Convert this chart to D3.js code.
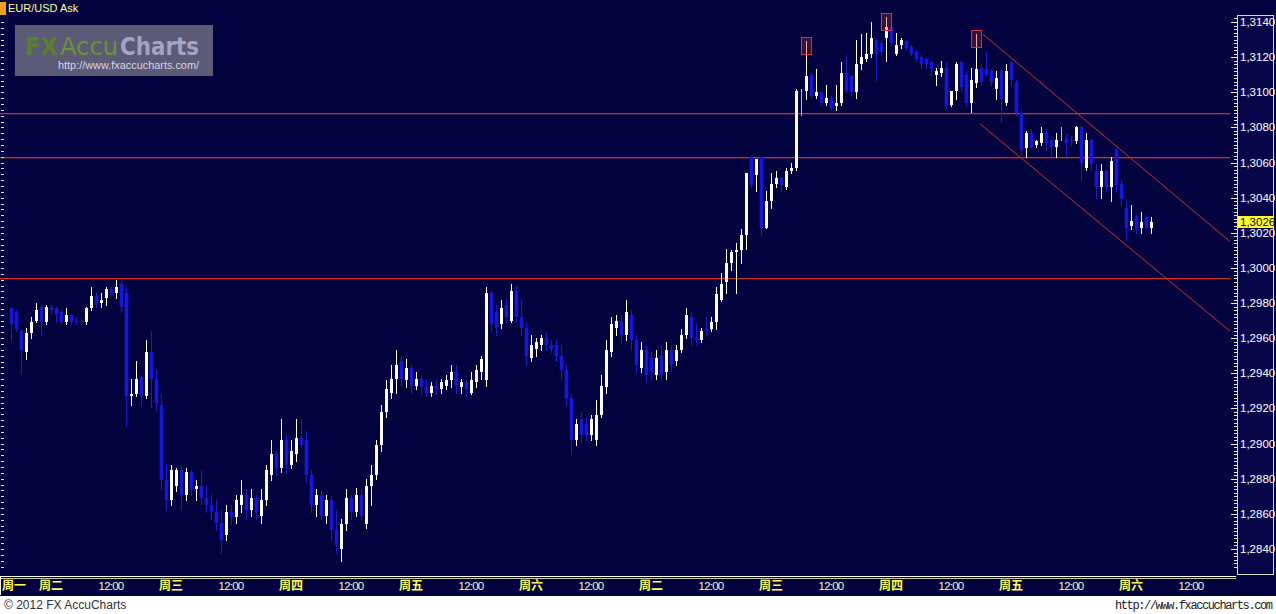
<!DOCTYPE html>
<html><head><meta charset="utf-8">
<script src="https://cdn.jsdelivr.net/npm/d3@7"></script>
<style>html,body{margin:0;padding:0;background:#fff;overflow:hidden}svg{display:block}</style>
</head><body>
<svg id="chart" width="1276" height="614"></svg>
<script>
// ---------- DATA (EUR/USD Ask, hourly candles) ----------
const openP = [
1.2977,1.2975,1.2964,1.2952,1.2963,1.2970,1.2978,1.2969,1.2978,1.2977,
1.2975,1.2969,1.2973,1.2970,1.2970,1.2969,1.2977,1.2984,1.2980,1.2983,
1.2988,1.2986,1.2991,1.2986,1.2927,1.2928,1.2938,1.2927,1.2952,1.2937,
1.2922,1.2879,1.2868,1.2876,1.2885,1.2871,1.2884,1.2874,1.2876,1.2869,
1.2865,1.2861,1.2855,1.2848,1.2861,1.2858,1.2865,1.2871,1.2862,1.2869,
1.2859,1.2868,1.2882,1.2894,1.2886,1.2902,1.2888,1.2894,1.2903,1.2902,
1.2882,1.2865,1.2871,1.2859,1.2868,1.2851,1.2840,1.2854,1.2869,1.2861,
1.2871,1.2854,1.2876,1.2882,1.2899,1.2918,1.2929,1.2937,1.2947,1.2936,
1.2943,1.2933,1.2937,1.2932,1.2929,1.2933,1.2931,1.2933,1.2936,1.2941,
1.2932,1.2935,1.2929,1.2935,1.2941,1.2936,1.2986,1.2975,1.2968,1.2979,
1.2970,1.2987,1.2972,1.2966,1.2949,1.2954,1.2956,1.2960,1.2956,1.2956,
1.2950,1.2942,1.2926,1.2902,1.2914,1.2911,1.2905,1.2902,1.2916,1.2932,
1.2952,1.2966,1.2970,1.2962,1.2973,1.2959,1.2943,1.2953,1.2949,1.2939,
1.2950,1.2941,1.2953,1.2947,1.2953,1.2962,1.2972,1.2960,1.2959,1.2965,
1.2965,1.2969,1.2982,1.2992,1.3003,1.3009,1.3010,1.3019,1.3063,1.3053,
1.3063,1.3023,1.3038,1.3048,1.3051,1.3046,1.3055,1.3057,1.3096,1.3101,
1.3110,1.3098,1.3100,1.3094,1.3097,1.3092,1.3094,1.3111,1.3109,1.3100,
1.3116,1.3119,1.3122,1.3130,1.3128,1.3131,1.3137,1.3122,1.3127,1.3129,
1.3126,1.3123,1.3120,1.3119,1.3117,1.3110,1.3111,1.3114,1.3093,1.3101,
1.3117,1.3110,1.3094,1.3105,1.3114,1.3113,1.3112,1.3102,1.3112,1.3094,
1.3117,1.3106,1.3088,1.3068,1.3077,1.3070,1.3071,1.3077,1.3073,1.3069,
1.3077,1.3074,1.3073,1.3072,1.3080,1.3057,1.3073,1.3055,1.3046,1.3055,
1.3046,1.3067,1.3048,1.3034,1.3024,1.3029,1.3023,1.3029,1.3023];
const highP = [
1.2978,1.2976,1.2965,1.2966,1.2972,1.2980,1.2979,1.2979,1.2979,1.2978,
1.2976,1.2977,1.2974,1.2972,1.2971,1.2978,1.2989,1.2986,1.2986,1.2989,
1.2989,1.2993,1.2993,1.2989,1.2937,1.2947,1.2939,1.2959,1.2964,1.2942,
1.2928,1.2888,1.2888,1.2886,1.2887,1.2886,1.2885,1.2879,1.2885,1.2876,
1.2871,1.2868,1.2862,1.2865,1.2865,1.2871,1.2879,1.2874,1.2874,1.2871,
1.2874,1.2888,1.2902,1.2896,1.2914,1.2905,1.2902,1.2914,1.2914,1.2907,
1.2885,1.2874,1.2873,1.2871,1.2870,1.2862,1.2857,1.2874,1.2871,1.2875,
1.2874,1.2880,1.2888,1.2902,1.2922,1.2936,1.2945,1.2953,1.2950,1.2948,
1.2945,1.2941,1.2939,1.2936,1.2935,1.2936,1.2937,1.2939,1.2945,1.2945,
1.2937,1.2936,1.2941,1.2945,1.2950,1.2989,1.2987,1.2979,1.2982,1.2983,
1.2991,1.2990,1.2982,1.2969,1.2962,1.2960,1.2962,1.2963,1.2959,1.2959,
1.2956,1.2945,1.2928,1.2914,1.2918,1.2915,1.2916,1.2925,1.2939,1.2959,
1.2972,1.2973,1.2973,1.2982,1.2976,1.2962,1.2958,1.2956,1.2952,1.2953,
1.2956,1.2958,1.2956,1.2956,1.2965,1.2977,1.2975,1.2968,1.2966,1.2972,
1.2972,1.2989,1.2997,1.3011,1.3010,1.3014,1.3022,1.3054,1.3064,1.3062,
1.3063,1.3044,1.3054,1.3055,1.3052,1.3057,1.3060,1.3102,1.3102,1.3129,
1.3111,1.3113,1.3101,1.3104,1.3098,1.3104,1.3117,1.3121,1.3110,1.3130,
1.3133,1.3134,1.3140,1.3131,1.3130,1.3143,1.3138,1.3134,1.3131,1.3130,
1.3127,1.3124,1.3121,1.3120,1.3118,1.3114,1.3118,1.3117,1.3101,1.3117,
1.3118,1.3112,1.3114,1.3133,1.3116,1.3123,1.3113,1.3112,1.3113,1.3116,
1.3118,1.3107,1.3090,1.3078,1.3079,1.3073,1.3080,1.3079,1.3074,1.3077,
1.3080,1.3076,1.3075,1.3081,1.3081,1.3077,1.3074,1.3059,1.3059,1.3056,
1.3063,1.3068,1.3050,1.3039,1.3036,1.3030,1.3032,1.3030,1.3029];
const lowP = [
1.2959,1.2964,1.2940,1.2948,1.2960,1.2969,1.2962,1.2968,1.2974,1.2969,
1.2968,1.2968,1.2968,1.2968,1.2968,1.2968,1.2976,1.2978,1.2978,1.2979,
1.2984,1.2983,1.2975,1.2910,1.2922,1.2927,1.2922,1.2926,1.2921,1.2919,
1.2874,1.2862,1.2865,1.2873,1.2863,1.2868,1.2871,1.2868,1.2865,1.2861,
1.2857,1.2851,1.2838,1.2845,1.2854,1.2855,1.2861,1.2857,1.2859,1.2857,
1.2855,1.2865,1.2879,1.2882,1.2884,1.2884,1.2886,1.2890,1.2898,1.2878,
1.2861,1.2859,1.2857,1.2855,1.2845,1.2838,1.2833,1.2851,1.2857,1.2859,
1.2857,1.2852,1.2865,1.2880,1.2896,1.2915,1.2926,1.2929,1.2933,1.2932,
1.2929,1.2931,1.2928,1.2927,1.2927,1.2928,1.2929,1.2931,1.2932,1.2929,
1.2929,1.2927,1.2928,1.2932,1.2937,1.2933,1.2964,1.2962,1.2966,1.2969,
1.2969,1.2969,1.2962,1.2945,1.2947,1.2950,1.2953,1.2953,1.2952,1.2947,
1.2937,1.2922,1.2894,1.2899,1.2901,1.2902,1.2902,1.2899,1.2915,1.2929,
1.2950,1.2962,1.2958,1.2959,1.2954,1.2941,1.2941,1.2935,1.2937,1.2937,
1.2936,1.2937,1.2941,1.2945,1.2952,1.2960,1.2956,1.2956,1.2958,1.2961,
1.2964,1.2965,1.2981,1.2986,1.2999,1.2986,1.3003,1.3011,1.3046,1.3044,
1.3019,1.3023,1.3034,1.3046,1.3044,1.3045,1.3054,1.3056,1.3087,1.3096,
1.3097,1.3097,1.3093,1.3093,1.3090,1.3090,1.3093,1.3100,1.3098,1.3097,
1.3113,1.3118,1.3120,1.3107,1.3121,1.3118,1.3127,1.3121,1.3125,1.3124,
1.3121,1.3118,1.3114,1.3114,1.3110,1.3104,1.3109,1.3091,1.3092,1.3096,
1.3101,1.3092,1.3089,1.3103,1.3104,1.3109,1.3104,1.3096,1.3083,1.3093,
1.3104,1.3087,1.3063,1.3063,1.3068,1.3069,1.3070,1.3067,1.3064,1.3063,
1.3073,1.3064,1.3070,1.3071,1.3050,1.3056,1.3056,1.3040,1.3040,1.3044,
1.3038,1.3043,1.3036,1.3016,1.3022,1.3020,1.3020,1.3023,1.3020];
const closeP = [
1.2968,1.2965,1.2953,1.2963,1.2969,1.2976,1.2969,1.2978,1.2976,1.2974,
1.2969,1.2973,1.2969,1.2969,1.2969,1.2977,1.2984,1.2979,1.2982,1.2988,
1.2985,1.2989,1.2978,1.2927,1.2928,1.2937,1.2927,1.2952,1.2937,1.2923,
1.2879,1.2868,1.2885,1.2885,1.2871,1.2884,1.2874,1.2876,1.2869,1.2865,
1.2861,1.2855,1.2845,1.2861,1.2858,1.2868,1.2871,1.2862,1.2869,1.2861,
1.2868,1.2885,1.2894,1.2886,1.2902,1.2888,1.2896,1.2903,1.2899,1.2882,
1.2865,1.2871,1.2859,1.2868,1.2851,1.2842,1.2854,1.2869,1.2861,1.2871,
1.2859,1.2876,1.2882,1.2899,1.2918,1.2931,1.2937,1.2945,1.2937,1.2943,
1.2933,1.2937,1.2932,1.2929,1.2933,1.2931,1.2935,1.2936,1.2941,1.2933,
1.2935,1.2931,1.2936,1.2942,1.2948,1.2986,1.2968,1.2966,1.2977,1.2972,
1.2987,1.2972,1.2966,1.2950,1.2956,1.2958,1.2960,1.2956,1.2954,1.2950,
1.2942,1.2926,1.2902,1.2911,1.2905,1.2905,1.2914,1.2916,1.2933,1.2953,
1.2968,1.2970,1.2962,1.2975,1.2959,1.2945,1.2953,1.2939,1.2941,1.2949,
1.2939,1.2953,1.2945,1.2953,1.2962,1.2973,1.2960,1.2959,1.2964,1.2964,
1.2969,1.2985,1.2991,1.3003,1.3009,1.3010,1.3019,1.3054,1.3047,1.3062,
1.3023,1.3038,1.3048,1.3051,1.3047,1.3055,1.3057,1.3101,1.3096,1.3109,
1.3098,1.3100,1.3094,1.3097,1.3091,1.3094,1.3111,1.3101,1.3100,1.3116,
1.3120,1.3122,1.3131,1.3122,1.3123,1.3137,1.3128,1.3127,1.3130,1.3125,
1.3122,1.3119,1.3116,1.3116,1.3113,1.3112,1.3114,1.3092,1.3101,1.3116,
1.3103,1.3094,1.3107,1.3113,1.3106,1.3110,1.3106,1.3108,1.3096,1.3112,
1.3107,1.3088,1.3067,1.3077,1.3069,1.3072,1.3077,1.3071,1.3069,1.3073,
1.3077,1.3071,1.3072,1.3080,1.3060,1.3073,1.3059,1.3046,1.3055,1.3046,
1.3061,1.3047,1.3039,1.3023,1.3027,1.3022,1.3026,1.3023,1.3026];

const timeLabels = ["周一","周二","12:00","周三","12:00","周四","12:00","周五","12:00","周六","12:00",
                    "周二","12:00","周三","12:00","周四","12:00","周五","12:00","周六","12:00"];
const timeLabelBars = [0,8,20,32,44,56,68,80,92,104,116,128,140,152,164,176,188,200,212,224,236];
const priceTicks = [1.3140,1.3120,1.3100,1.3080,1.3060,1.3040,1.3020,1.3000,1.2980,1.2960,1.2940,1.2920,1.2900,1.2880,1.2860,1.2840];
const levelLines = [1.3088, 1.3063, 1.2994];
const channelUpper = [[194.4, 1.3133], [243.8, 1.3015]];
const channelLower = [[193.8, 1.3082], [243.8, 1.2964]];
const peakBars = [159, 175, 193];
const lastPrice = 1.3026;
const titleText = "EUR/USD Ask";

// ---------- LAYOUT ----------
const W = 1276, H = 614;
const plotRight = 1236, plotBottom = 576;
const svg = d3.select("#chart");
const defs = svg.append("defs");
defs.append("clipPath").attr("id","plotclip").append("rect")
  .attr("x",0).attr("y",0).attr("width",plotRight).attr("height",plotBottom);

const bg = "#02023e";
svg.append("rect").attr("x",0).attr("y",0).attr("width",W).attr("height",596).attr("fill",bg);
svg.append("rect").attr("x",0).attr("y",596).attr("width",W).attr("height",H-596).attr("fill","#ffffff");

const x = d3.scaleLinear().domain([0, 228]).range([11, 1151]);
const y = d3.scaleLinear().domain([1.2840, 1.3140]).range([549, 22]);

// watermark logo (single text element)
svg.append("rect").attr("x",15).attr("y",25).attr("width",198).attr("height",51).attr("fill","#5b5b77");
const logoT = svg.append("text").attr("font-family","DejaVu Sans, sans-serif");
logoT.append("tspan").attr("x",25).attr("y",55).attr("font-size",24).attr("font-weight","bold")
  .attr("fill","#5a7f2e").attr("textLength",33).attr("lengthAdjust","spacingAndGlyphs").text("FX");
logoT.append("tspan").attr("x",60).attr("y",55).attr("font-size",24)
  .attr("fill","#6a9236").attr("textLength",58).attr("lengthAdjust","spacingAndGlyphs").text("Accu");
logoT.append("tspan").attr("x",120).attr("y",55).attr("font-size",24).attr("font-weight","bold")
  .attr("fill","#a3a3c2").attr("textLength",79).attr("lengthAdjust","spacingAndGlyphs").text("Charts");
logoT.append("tspan").attr("x",58).attr("y",69).attr("font-size",10.5).attr("font-family","Liberation Sans, Arial, sans-serif")
  .attr("fill","#d6d6e6").attr("textLength",141).attr("lengthAdjust","spacingAndGlyphs").text("http://www.fxaccucharts.com/");

const plot = svg.append("g").attr("clip-path","url(#plotclip)");

// support / resistance lines
const lvl = plot.append("g");
levelLines.forEach(v=>{
  const r = Math.round(y(v));
  lvl.append("rect").attr("x",0).attr("width",1230).attr("y",r).attr("height",1)
    .attr("fill","#cc302a").attr("shape-rendering","crispEdges");
  lvl.append("rect").attr("x",0).attr("width",1230).attr("y",r+1).attr("height",1)
    .attr("fill","#cc302a").attr("opacity",0.3).attr("shape-rendering","crispEdges");
});

// channel
[channelUpper, channelLower].forEach(ch=>{
  plot.append("line")
    .attr("x1",x(ch[0][0])).attr("y1",y(ch[0][1]))
    .attr("x2",Math.min(x(ch[1][0]),1230)).attr("y2",y(ch[1][1]))
    .attr("stroke","#c8302a").attr("stroke-width",1);
});

// candles
const data = openP.map((o,i)=>{
  const c = closeP[i];
  return {i, o, c, h: Math.max(highP[i],o,c), l: Math.min(lowP[i],o,c)};
});
const colorOf = d => d.c > d.o ? "#ffffff" : (d.c < d.o ? "#1818ec" : "#84c8ff");
const wickOf = d => d.c > d.o ? "#ffffff" : (d.c < d.o ? "#1c1cc8" : "#84c8ff");

const cg = plot.append("g");
data.forEach(d=>{
  const cx = Math.round(x(d.i));
  cg.append("rect").attr("x",cx).attr("width",1)
    .attr("y",Math.round(y(d.h))).attr("height",Math.max(1,Math.round(y(d.l))-Math.round(y(d.h))+1))
    .attr("fill",wickOf(d)).attr("shape-rendering","crispEdges");
  if (d.c !== d.o) {
    const top = Math.round(y(Math.max(d.o,d.c))), bot = Math.round(y(Math.min(d.o,d.c)));
    cg.append("rect").attr("x",cx-1).attr("width",3)
      .attr("y",top).attr("height",Math.max(1,bot-top))
      .attr("fill",colorOf(d)).attr("shape-rendering","crispEdges");
    if (d.c < d.o) { // soft edges like the reference's blue bars
      cg.append("rect").attr("x",cx-2).attr("width",5)
        .attr("y",top).attr("height",Math.max(1,bot-top))
        .attr("fill","#1414c8").attr("opacity",0.35).attr("shape-rendering","crispEdges");
    }
  }
});

// peak markers
plot.selectAll("rect.peak").data(peakBars).enter().append("rect")
  .attr("x",d=>Math.round(x(d))-5+0.5).attr("width",10)
  .attr("y",d=>Math.round(y(highP[d]))-4+0.5).attr("height",17)
  .attr("fill","rgba(170,40,40,0.35)").attr("stroke","#c8383a").attr("stroke-width",1);

// left edge ticks
const leftTicks = d3.range(1.2830, 1.3150, 0.002/6);
svg.append("g").selectAll("rect").data(leftTicks.filter(v=>y(v)>=18 && y(v)<=574)).enter().append("rect")
  .attr("x",1).attr("width",3)
  .attr("y",d=>Math.round(y(d))).attr("height",1)
  .attr("fill","#e8e8e8").attr("shape-rendering","crispEdges");

// title
svg.append("rect").attr("x",0).attr("y",2).attr("width",6).attr("height",13).attr("fill","#f0a024");
svg.append("text").attr("x",8).attr("y",12).attr("font-family","Liberation Sans, Arial, sans-serif")
  .attr("font-size",11).attr("fill","#ffff9c").text(titleText);

// right price axis panel
svg.append("rect").attr("x",1237.5).attr("y",15.5).attr("width",36).attr("height",559)
  .attr("fill","#07074a").attr("stroke","#d8d8c8").attr("stroke-width",1);
const minor = d3.range(1.2830, 1.31501, 0.0002).filter(v=>y(v)>17 && y(v)<574);
svg.append("g").selectAll("rect").data(minor).enter().append("rect")
  .attr("x",1234).attr("width",3)
  .attr("y",d=>Math.round(y(d))).attr("height",1)
  .attr("fill","#e8e8d8").attr("shape-rendering","crispEdges");
const fmt = v => d3.format(".4f")(v).replace(".", ",");
const axisG = svg.append("g");
axisG.selectAll("rect").data(priceTicks).enter().append("rect")
  .attr("x",1231).attr("width",6)
  .attr("y",d=>Math.round(y(d))).attr("height",1)
  .attr("fill","#f0f0e0").attr("shape-rendering","crispEdges");
axisG.selectAll("text").data(priceTicks).enter().append("text")
  .attr("x",1240).attr("y",d=>y(d)+4)
  .attr("font-family","Liberation Sans, Arial, sans-serif").attr("font-size",11.5)
  .attr("fill","#ffffff").text(fmt);

// last price tag
svg.append("rect").attr("x",1238).attr("y",Math.round(y(lastPrice))-6).attr("width",36).attr("height",12).attr("fill","#ffff33");
svg.append("text").attr("x",1240).attr("y",y(lastPrice)+4)
  .attr("font-family","Liberation Sans, Arial, sans-serif").attr("font-size",11.5)
  .attr("fill","#000000").text(fmt(lastPrice));

// time axis band
svg.append("rect").attr("x",0).attr("y",576).attr("width",plotRight).attr("height",1).attr("fill","#fffff0");
svg.append("rect").attr("x",0).attr("y",578).attr("width",plotRight).attr("height",1).attr("fill","#c8c8b0");
svg.append("rect").attr("x",0).attr("y",577).attr("width",1).attr("height",18).attr("fill","#fffff0");
svg.append("g").selectAll("text").data(timeLabels).enter().append("text")
  .attr("x",(d,i)=> i===0 ? 2 : x(timeLabelBars[i]))
  .attr("y",590)
  .attr("text-anchor",(d,i)=> i===0 ? "start" : "middle")
  .attr("font-family",d=> d.startsWith("周") ? "Noto Sans CJK SC, sans-serif" : "Liberation Sans, Arial, sans-serif")
  .attr("font-weight",d=> d.startsWith("周") ? "bold" : "normal")
  .attr("font-size",d=> d.startsWith("周") ? 12 : 11.5)
  .attr("fill",d=> d.startsWith("周") ? "#ffff55" : "#f4f4dc")
  .attr("letter-spacing",d=> d.startsWith("周") ? 0 : -0.8)
  .text(d=>d);

// footer
svg.append("text").attr("x",4).attr("y",609).attr("font-family","Liberation Sans, Arial, sans-serif")
  .attr("font-size",12).attr("fill","#333333").text("© 2012 FX AccuCharts");
svg.append("text").attr("x",1115).attr("y",609).attr("font-family","Liberation Mono, DejaVu Sans Mono, monospace")
  .attr("font-size",12).attr("fill","#222222").attr("textLength",158).text("http://www.fxaccucharts.com");
</script>
</body></html>
